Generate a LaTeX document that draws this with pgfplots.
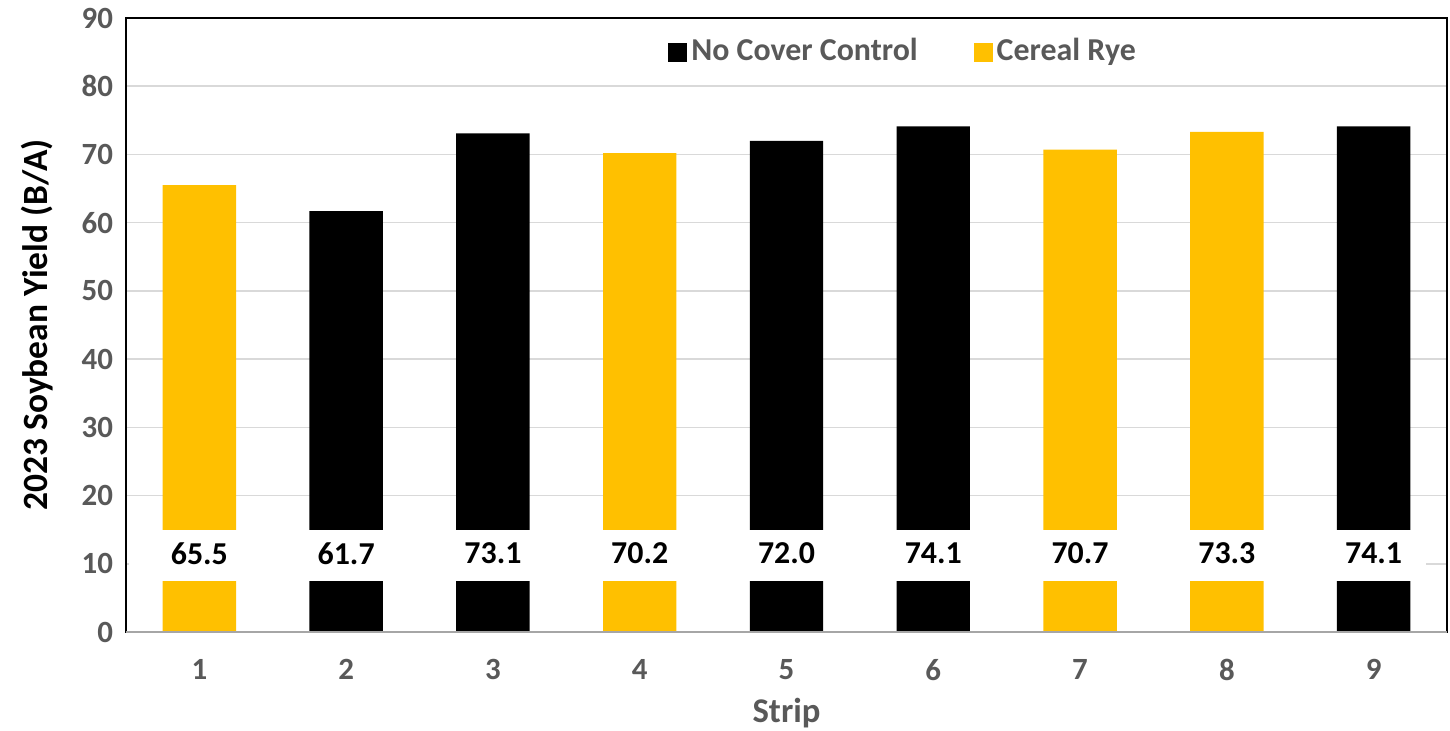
\documentclass[border=0pt]{standalone}
\usepackage{fontspec}
\setmainfont{Carlito}
\usepackage{pgfplots}
\pgfplotsset{compat=1.18}
\definecolor{gold}{HTML}{FFC000}
\definecolor{tickgray}{HTML}{595959}
\definecolor{gridgray}{HTML}{D9D9D9}
\begin{document}
\begin{tikzpicture}
\useasboundingbox (-63bp,-49.5bp) rectangle (662bp,316bp);
\begin{axis}[
  scale only axis,
  width=660.5bp, height=307bp,
  xmin=0.5, xmax=9.5, ymin=0, ymax=90,
  xtick={1,...,9}, ytick={0,10,...,90},
  /pgf/number format/assume math mode=true,
  tick style={draw=none},
  ymajorgrids, grid style={gridgray, line width=0.8bp},
  axis line style={black, line width=1.4bp},
  ticklabel style={font=\fontsize{15.5}{18}\selectfont\bfseries, text=tickgray},
  yticklabel style={xshift=-3bp},
  xticklabel style={yshift=-10bp},
  ylabel={2023 Soybean Yield (B/A)},
  ylabel style={font=\fontsize{17.8}{20}\selectfont\bfseries, at={(axis description cs:-0.0674,0.5)}, anchor=center},
  xlabel={Strip},
  xlabel style={font=\fontsize{17.4}{20}\selectfont\bfseries, text=tickgray, at={(axis description cs:0.5,-0.132)}, anchor=center},
  legend style={draw=none, fill=none, at={(axis description cs:0.589,0.946)}, anchor=center,
    font=\fontsize{16}{19}\selectfont\bfseries, text=tickgray, legend columns=2,
    /tikz/every odd column/.append style={column sep=0bp},
    /tikz/every even column/.append style={column sep=26bp}},
  legend image code/.code={\fill[#1] (0bp,-5.5bp) rectangle (9.5bp,4bp);},
]
\addplot[ybar, bar width=0.5, bar shift=0pt, fill=black, draw=none] coordinates {
  (2,61.7) (3,73.1) (5,72.0) (6,74.1) (9,74.1)};
\addlegendentry{No Cover Control}
\addplot[ybar, bar width=0.5, bar shift=0pt, fill=gold, draw=none] coordinates {
  (1,65.5) (4,70.2) (7,70.7) (8,73.3)};
\addlegendentry{Cereal Rye}
\fill[white] (axis cs:0.52,7.5) rectangle (axis cs:9.36,15);
\addplot[draw=none, mark=none, forget plot, nodes near coords, point meta=explicit symbolic,
  every node near coord/.append style={anchor=center, font=\fontsize{16}{19}\selectfont\bfseries, text=black}]
  table[meta=label] {
x y label
1 11.5 65.5
2 11.5 61.7
3 11.5 73.1
4 11.5 70.2
5 11.5 72.0
6 11.5 74.1
7 11.5 70.7
8 11.5 73.3
9 11.5 74.1
};
\draw[gray!70, line width=1bp] (axis cs:0.5,0) -- (axis cs:9.5,0);
\end{axis}
\end{tikzpicture}
\end{document}
